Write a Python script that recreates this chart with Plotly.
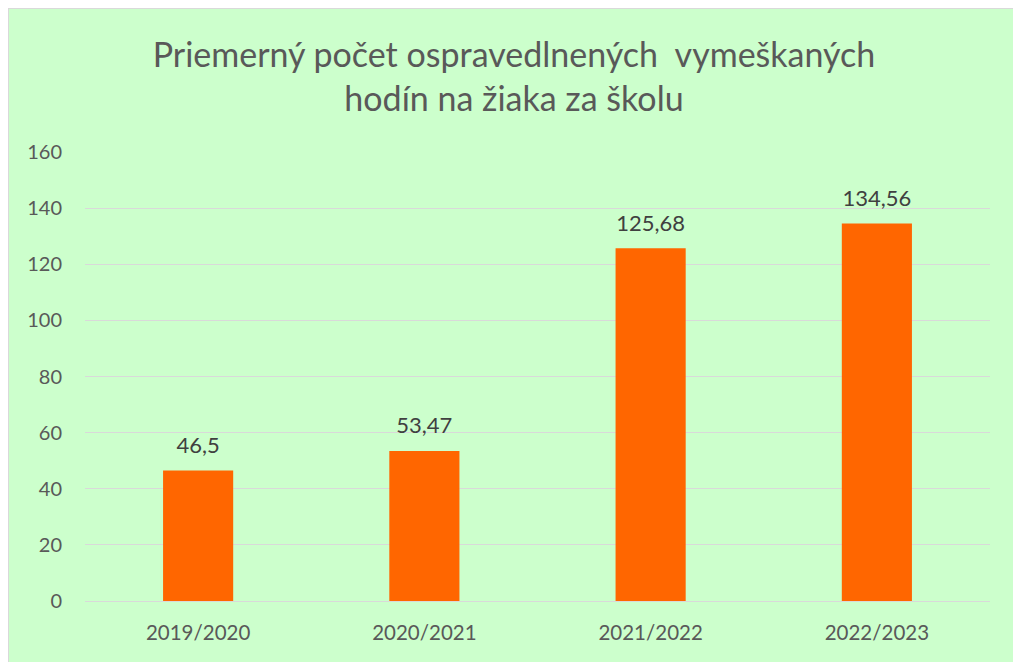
import plotly.graph_objects as go

categories = ["2019/2020", "2020/2021", "2021/2022", "2022/2023"]
values = [46.5, 53.47, 125.68, 134.56]
labels = [str(v).replace(".", ",") for v in values]
y_ticks = [0, 20, 40, 60, 80, 100, 120, 140, 160]

W, H = 1010, 654
L, R, T, B = 77, 28, 144, 61
pw, ph = W - L - R, H - T - B

fig = go.Figure()
fig.add_trace(go.Bar(
    x=categories, y=values,
    marker=dict(color="#FF6600", line=dict(width=0)),
    hoverinfo="skip",
))
fig.add_trace(go.Scatter(
    x=categories, y=values, text=labels, mode="markers+text",
    textposition="top center",
    marker=dict(size=18, opacity=0),
    textfont=dict(family="Lato", size=22, color="#404040"),
    cliponaxis=False, hoverinfo="skip",
))

fig.add_shape(type="rect", xref="paper", yref="paper", layer="below",
              x0=(0 - L) / pw, x1=(W - 1 - L) / pw,
              y0=-(B + 10) / ph, y1=(ph + T) / ph,
              fillcolor="#CCFFCC", line=dict(color="#D9D9D9", width=2))

fig.update_layout(
    width=W, height=H,
    margin=dict(l=L, r=R, t=T, b=B),
    paper_bgcolor="#CCFFCC", plot_bgcolor="rgba(0,0,0,0)",
    bargap=0.69,
    showlegend=False,
    title=dict(text="Priemerný počet ospravedlnených  vymeškaných<br>hodín na žiaka za školu",
               x=506 / W, xanchor="center", y=1 - 59 / H, yanchor="top", yref="container",
               font=dict(family="Lato", size=34, color="#595959")),
    font=dict(family="Lato", color="#595959"),
    xaxis=dict(showgrid=False, showline=False, ticks="", ticklabelstandoff=17,
               tickfont=dict(size=20.5, color="#595959")),
    yaxis=dict(range=[0, 160], tickvals=y_ticks, showgrid=True, gridcolor="#D9D9D9",
               gridwidth=1, zeroline=True, zerolinecolor="#D9D9D9", zerolinewidth=1,
               showline=False, ticks="", ticklabelstandoff=22,
               tickfont=dict(size=20, color="#595959")),
)

fig.write_html("out.html")
